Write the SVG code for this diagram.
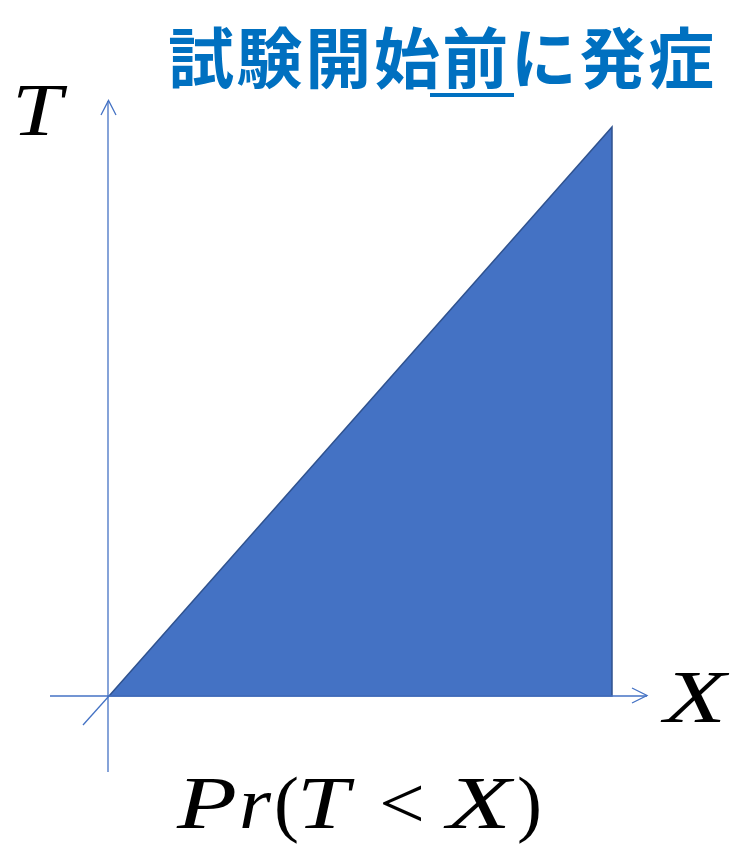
<svg xmlns="http://www.w3.org/2000/svg" width="733" height="847" viewBox="0 0 733 847">
<style>
.ax{stroke:#4472C4;stroke-width:1.3;fill:none}
.math{font-family:"Liberation Serif","DejaVu Serif",serif;font-size:75px;fill:#000}
.it{font-style:italic}
.title{font-family:"Noto Sans CJK JP","Noto Sans CJK SC",sans-serif;font-weight:bold;font-size:66px;fill:#0070C0}
</style>
<rect width="733" height="847" fill="#fff"/>
<g id="title">
<text class="title" x="168" y="83" textLength="546" lengthAdjust="spacing">試験開始前に発症</text>
<rect x="430" y="93" width="84" height="4" fill="#0070C0"/>
</g>
<g id="triangle">
<polygon points="109,696 612,127 612,696" fill="#4472C4" stroke="#2F528F" stroke-width="1.5" stroke-linejoin="miter"/>
</g>
<g id="connectors">
<line class="ax" x1="108" y1="772" x2="108" y2="101"/>
<polyline class="ax" points="101,115 108.5,100.5 116,115"/>
<line class="ax" x1="50" y1="696" x2="647" y2="696"/>
<polyline class="ax" points="632,688 647,695.5 632,703"/>
<line class="ax" x1="83" y1="725" x2="109" y2="696"/>
</g>
<g id="label-T">
<text class="math it" x="12" y="135" textLength="50" lengthAdjust="spacingAndGlyphs">T</text>
</g>
<g id="label-X">
<text class="math it" x="664" y="722" textLength="62" lengthAdjust="spacingAndGlyphs">X</text>
</g>
<g id="label-Pr">
<text class="math it" x="177" y="828" textLength="60" lengthAdjust="spacingAndGlyphs">P</text>
<text class="math it" x="239" y="828" textLength="32" lengthAdjust="spacingAndGlyphs">r</text>
<text class="math" x="274" y="828" font-size="84">(</text>
<text class="math it" x="297" y="828" textLength="52" lengthAdjust="spacingAndGlyphs">T</text>
<text class="math" x="379" y="828" textLength="46" lengthAdjust="spacingAndGlyphs">&lt;</text>
<text class="math it" x="447" y="828" textLength="64" lengthAdjust="spacingAndGlyphs">X</text>
<text class="math" x="517" y="828" font-size="84">)</text>
</g>
</svg>
